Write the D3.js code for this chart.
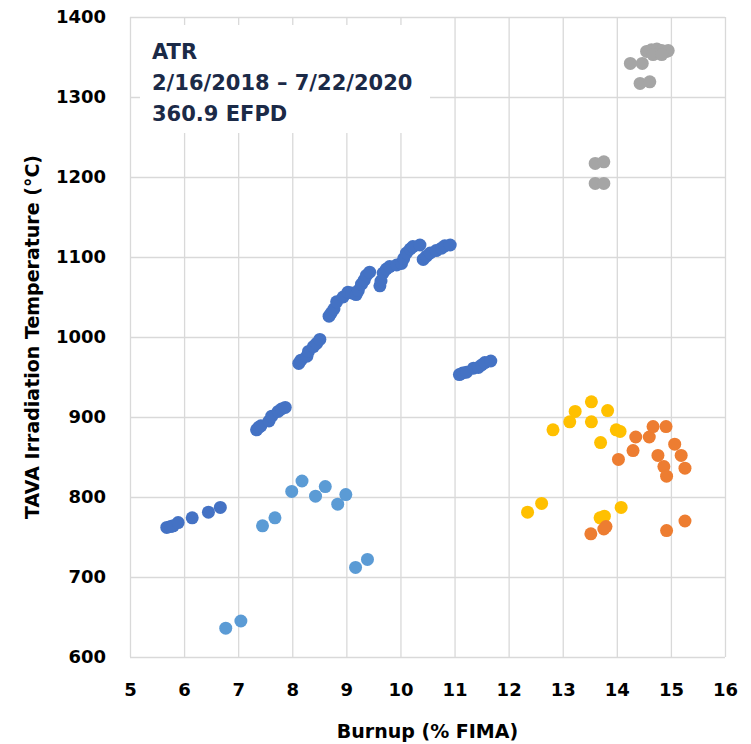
<!DOCTYPE html>
<html lang="en">
<head>
    <meta charset="UTF-8">
    <title>TAVA Irradiation Temperature vs Burnup</title>
    <script src="https://d3js.org/d3.v7.min.js"></script>
    <style>
        body { margin: 0; background: #fff; }
        .tick text { font-family: "DejaVu Sans", sans-serif; font-weight: bold; font-size: 18px; fill: #000; }
        .grid line { stroke: #d9d9d9; stroke-width: 1.3; }
        .axis-title { font-family: "DejaVu Sans", sans-serif; font-weight: bold; font-size: 19px; fill: #000; }
        .note { font-family: "DejaVu Sans", sans-serif; font-weight: bold; font-size: 21px; fill: #1b2a47; }
    </style>
</head>
<body>
<svg id="chart"></svg>
<script>
// data
const xTicks = [5, 6, 7, 8, 9, 10, 11, 12, 13, 14, 15, 16];
const yTicks = [600, 700, 800, 900, 1000, 1100, 1200, 1300, 1400];
const noteLines = ["ATR", "2/16/2018 \u2013 7/22/2020", "360.9 EFPD"];

// dark blue
const burnupDark = [5.68, 5.75, 5.80, 5.89, 6.15, 6.45, 6.67,
    7.34, 7.38, 7.42, 7.57, 7.62, 7.74, 7.80, 7.87,
    8.12, 8.16, 8.27, 8.30, 8.39, 8.45, 8.51,
    8.68, 8.72, 8.77, 8.82, 8.94, 9.03, 9.10, 9.18, 9.22, 9.28, 9.33, 9.37, 9.43,
    9.62, 9.64, 9.68, 9.74, 9.80, 9.93, 10.02, 10.06, 10.11, 10.18, 10.23, 10.36,
    10.42, 10.48, 10.55, 10.66, 10.76, 10.82, 10.92,
    11.09, 11.15, 11.22, 11.35, 11.44, 11.50, 11.56, 11.67];
const tempDark = [762, 763, 764, 768, 774, 781, 787,
    884, 887, 889, 895, 901, 907, 910, 912,
    967, 971, 976, 982, 988, 992, 997,
    1026, 1030, 1035, 1044, 1050, 1056, 1055, 1053, 1058, 1066, 1071, 1077, 1081,
    1064, 1070, 1080, 1085, 1088, 1090, 1092, 1098, 1105, 1110, 1113, 1115,
    1097, 1101, 1105, 1108, 1111, 1114, 1115,
    953, 955, 956, 961, 962, 965, 968, 970];

// light blue
const burnupLight = [6.77, 7.05, 7.45, 7.68, 7.99, 8.18, 8.43, 8.61, 8.84, 8.99, 9.17, 9.39];
const tempLight = [636, 645, 764, 774, 807, 820, 801, 813, 791, 803, 712, 722];

// grey
const burnupGrey = [13.60, 13.76, 13.60, 13.76, 14.25, 14.47, 14.43, 14.61,
    14.55, 14.64, 14.74, 14.83, 14.92, 14.95, 14.67, 14.83];
const tempGrey = [1217, 1219, 1192, 1192, 1342, 1342, 1317, 1319,
    1357, 1359, 1360, 1358, 1357, 1358, 1353, 1353];

// yellow
const burnupYellow = [12.82, 13.13, 13.23, 13.53, 13.53, 13.83, 13.99, 14.06, 13.70,
    12.35, 12.61, 13.69, 13.77, 14.08];
const tempYellow = [884, 894, 907, 919, 894, 908, 884, 882, 868,
    781, 792, 774, 776, 787];

// orange
const burnupOrange = [14.35, 14.60, 14.67, 14.91, 14.30, 14.03, 14.76, 15.07, 15.19,
    14.87, 15.26, 14.92, 13.52, 13.76, 13.80, 14.92, 15.26];
const tempOrange = [875, 875, 888, 888, 858, 847, 852, 866, 852,
    838, 836, 826, 754, 760, 763, 758, 770];

const series = [
    { x: burnupDark, y: tempDark, color: "#4472c4" },
    { x: burnupLight, y: tempLight, color: "#5b9bd5" },
    { x: burnupGrey, y: tempGrey, color: "#a5a5a5" },
    { x: burnupYellow, y: tempYellow, color: "#ffc000" },
    { x: burnupOrange, y: tempOrange, color: "#ed7d31" }
];

const W = 751, H = 744;
const margin = { top: 17, right: 26, bottom: 87, left: 130 };
const width = W - margin.left - margin.right;
const height = H - margin.top - margin.bottom;

const svg = d3.select("#chart").attr("width", W).attr("height", H);
const g = svg.append("g").attr("transform", `translate(${margin.left},${margin.top})`);

const x = d3.scaleLinear().domain([5, 16]).range([0, width]);
const y = d3.scaleLinear().domain([600, 1400]).range([height, 0]);

// gridlines + tick labels
const xAxis = g.append("g")
    .attr("class", "grid")
    .attr("transform", `translate(0,${height})`)
    .call(d3.axisBottom(x).tickValues(xTicks).tickSize(-height).tickPadding(26).tickFormat(d3.format("d")));
xAxis.select(".domain").remove();

const yAxis = g.append("g")
    .attr("class", "grid")
    .call(d3.axisLeft(y).tickValues(yTicks).tickSize(-width).tickPadding(24).tickFormat(d3.format("d")));
yAxis.select(".domain").remove();

// annotation box
g.append("rect")
    .attr("x", 10).attr("y", 8)
    .attr("width", 290).attr("height", 108)
    .attr("fill", "#fff");

g.selectAll(".note")
    .data(noteLines)
    .enter().append("text")
    .attr("class", "note")
    .attr("x", 22)
    .attr("y", (d, i) => 42 + i * 31)
    .text(d => d);

// points
series.forEach(s => {
    g.append("g").selectAll("circle")
        .data(s.x.map((v, i) => [v, s.y[i]]))
        .enter().append("circle")
        .attr("cx", d => x(d[0]))
        .attr("cy", d => y(d[1]))
        .attr("r", 6.5)
        .attr("fill", s.color);
});

// axis titles
svg.append("text")
    .attr("class", "axis-title")
    .attr("x", margin.left + width / 2)
    .attr("y", 738)
    .attr("text-anchor", "middle")
    .text("Burnup (% FIMA)");

svg.append("text")
    .attr("class", "axis-title")
    .attr("transform", `translate(39,${margin.top + height / 2}) rotate(-90)`)
    .attr("text-anchor", "middle")
    .text("TAVA Irradiation Temperature (\u00b0C)");
</script>
</body>
</html>
